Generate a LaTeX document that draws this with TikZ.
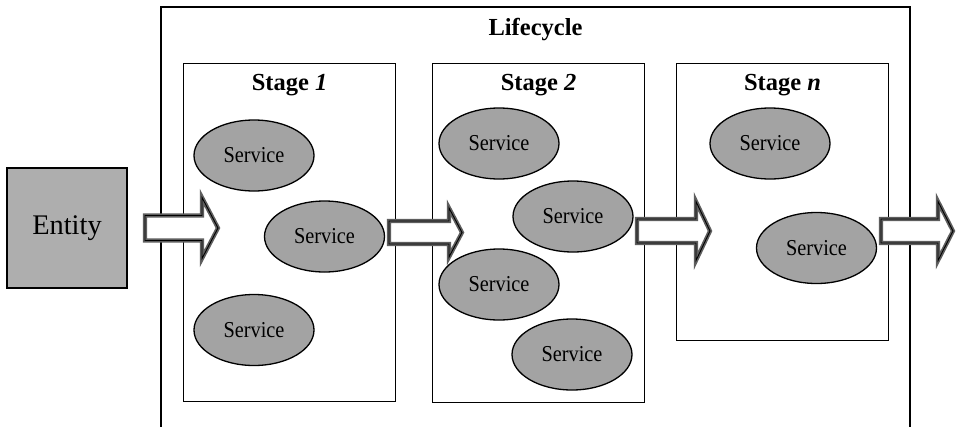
\documentclass[tikz,border=0pt]{standalone}
\usepackage{fontspec}
\setmainfont{Liberation Serif}
\usetikzlibrary{shapes.geometric}

\definecolor{svcfill}{HTML}{A3A3A3}
\definecolor{entfill}{HTML}{AEAEAE}
\definecolor{arrowrim}{HTML}{5E5E5E}

% block arrow: #2 shaft start x, #3 head base x, #4 tip x, #5 centre y,
% #6 shaft half height, #7 head half height
\newcommand{\blockarr}[7][]{%
  \path[blockarrow,#1] (#2,#5-#6) -- (#3,#5-#6) -- (#3,#5-#7) -- (#4,#5)
    -- (#3,#5+#7) -- (#3,#5+#6) -- (#2,#5+#6) -- cycle;}
% service label, set a little taller than wide
\newcommand{\svctext}{\scalebox{1}[1.12]{Service}}

\begin{document}
\begin{tikzpicture}[x=1pt,y=-1pt,
  box/.style={draw=black, line width=1.1pt},
  stagebox/.style={box, fill=white, anchor=north west, inner sep=0pt,
    minimum width=212pt},
  svc/.style={ellipse, draw=black, line width=1.3pt, fill=svcfill,
    minimum width=120pt, minimum height=71pt, inner sep=0pt,
    font=\fontsize{20.3}{24}\selectfont},
  heading/.style={font=\fontsize{24.5}{28}\selectfont\bfseries},
  blockarrow/.style={fill=white, draw=arrowrim, line width=4.2pt,
    line join=miter, miter limit=10,
    postaction={draw=black, line width=0.9pt}},
  plainarrow/.style={postaction={}},
]
\useasboundingbox (0,0) rectangle (959,426);
\clip (0,0) rectangle (959,426);

% outer lifecycle frame, open at the bottom
\draw[box] (161,440) |- (910,7) -- (910,440);
\node[heading] (life) at (535.5,30) {Lifecycle};

% stages
\node[stagebox, minimum height=338pt] (s1) at (183,63) {};
\node[stagebox, minimum height=339pt] (s2) at (432,63) {};
\node[stagebox, minimum height=277pt] (sn) at (676,63) {};

\node[heading] (t1) at (s1.north |- 0,85) {Stage \textit{1}};
\node[heading] (t2) at (s2.north |- 0,85) {Stage \textit{2}};
\node[heading] (tn) at (sn.north |- 0,85) {Stage \textit{n}};

% services of stage 1
\node[svc] (a1) at (254,155.5) {\svctext};
\node[svc] (a2) at (324.5,236.5) {\svctext};
\node[svc] (a3) at (254,330) {\svctext};

% services of stage 2
\node[svc] (b1) at (499,143.5) {\svctext};
\node[svc] (b2) at (573,216.5) {\svctext};
\node[svc] (b3) at (499,284.5) {\svctext};
\node[svc] (b4) at (572,354.5) {\svctext};

% services of stage n
\node[svc] (c1) at (770,143.5) {\svctext};
\node[svc] (c2) at (816.5,248) {\svctext};

% entity
\node[box, fill=entfill, minimum width=120pt, minimum height=120pt,
  inner sep=0pt, font=\fontsize{28.4}{32}\selectfont] (ent) at (67,228) {Entity};

% flow arrows between the stages
\blockarr{145}{202}{218}{228}{12.5}{30.5}
\blockarr[plainarrow]{389}{449}{462}{232.5}{11.5}{24.5}
\blockarr{637}{696}{710}{231}{12}{29.5}
\blockarr{881}{938}{953}{231}{12}{29.5}
\end{tikzpicture}
\end{document}
